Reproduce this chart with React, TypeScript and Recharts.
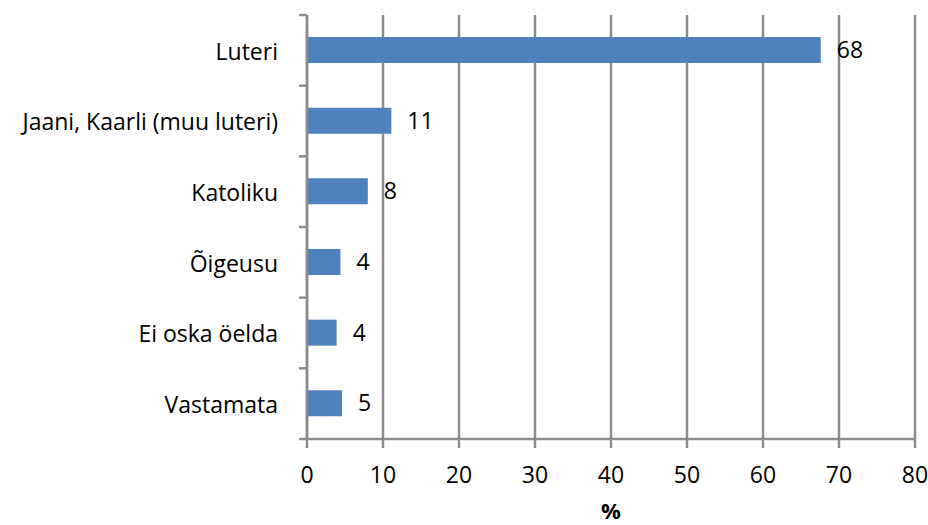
import { BarChart, Bar, XAxis, YAxis, CartesianGrid, LabelList } from "recharts";

const categories = ["Luteri", "Jaani, Kaarli (muu luteri)", "Katoliku", "Õigeusu", "Ei oska öelda", "Vastamata"];
const shares = [67.6, 11.1, 8.0, 4.4, 3.9, 4.6];
const xTicks = [0, 10, 20, 30, 40, 50, 60, 70, 80];

const data = categories.map((name, i) => ({ name, value: shares[i] }));

const FONT = "'Open Sans', sans-serif";
const GRID = "#8c8c8c";
const LABEL_GAP = 29;
const PLOT_H = 424;

// category ticks sit on the band edges, labels in the middle
const CategoryTick = (props: any) => {
  const { x, y, payload, index } = props;
  const band = PLOT_H / categories.length;
  const ax = x + LABEL_GAP;
  return (
    <g>
      <line x1={ax - 8} x2={ax} y1={y - band / 2} y2={y - band / 2} stroke={GRID} strokeWidth={2.5} />
      {index === categories.length - 1 && (
        <line x1={ax - 8} x2={ax} y1={y + band / 2} y2={y + band / 2} stroke={GRID} strokeWidth={2.5} />
      )}
      <text x={x} y={y} dy="0.4em" textAnchor="end" fontSize={23} fontFamily={FONT} fill="#000">
        {payload.value}
      </text>
    </g>
  );
};

export default function App() {
  return (
    <div style={{ position: "absolute", left: 0, top: 0 }}>
      <BarChart
        width={928}
        height={525}
        data={data}
        layout="vertical"
        margin={{ top: 15, right: 13, bottom: 0, left: 0 }}
      >
        <CartesianGrid horizontal={false} stroke={GRID} strokeWidth={2.5} />
        <XAxis
          type="number"
          domain={[0, 80]}
          ticks={xTicks}
          interval={0}
          height={86}
          axisLine={{ stroke: GRID, strokeWidth: 2.5 }}
          tickLine={{ stroke: GRID, strokeWidth: 2.5 }}
          tickSize={9}
          tickMargin={19}
          tick={{ fontSize: 23, fontFamily: FONT, fill: "#000" }}
          label={{ value: "%", position: "insideBottom", offset: 6, fontSize: 22, fontWeight: "bold", fontFamily: FONT, fill: "#000" }}
        />
        <YAxis
          type="category"
          dataKey="name"
          width={307}
          axisLine={{ stroke: GRID, strokeWidth: 2.5 }}
          tickLine={false}
          tickSize={0}
          tickMargin={LABEL_GAP}
          tick={<CategoryTick />}
          interval={0}
        />
        <Bar dataKey="value" fill="#4f81bd" barSize={26} isAnimationActive={false}>
          <LabelList
            dataKey="value"
            position="right"
            offset={16}
            formatter={(v: any) => Math.round(Number(v))}
            style={{ fontSize: 23, fontFamily: FONT, fill: "#000" }}
          />
        </Bar>
      </BarChart>
    </div>
  );
}
